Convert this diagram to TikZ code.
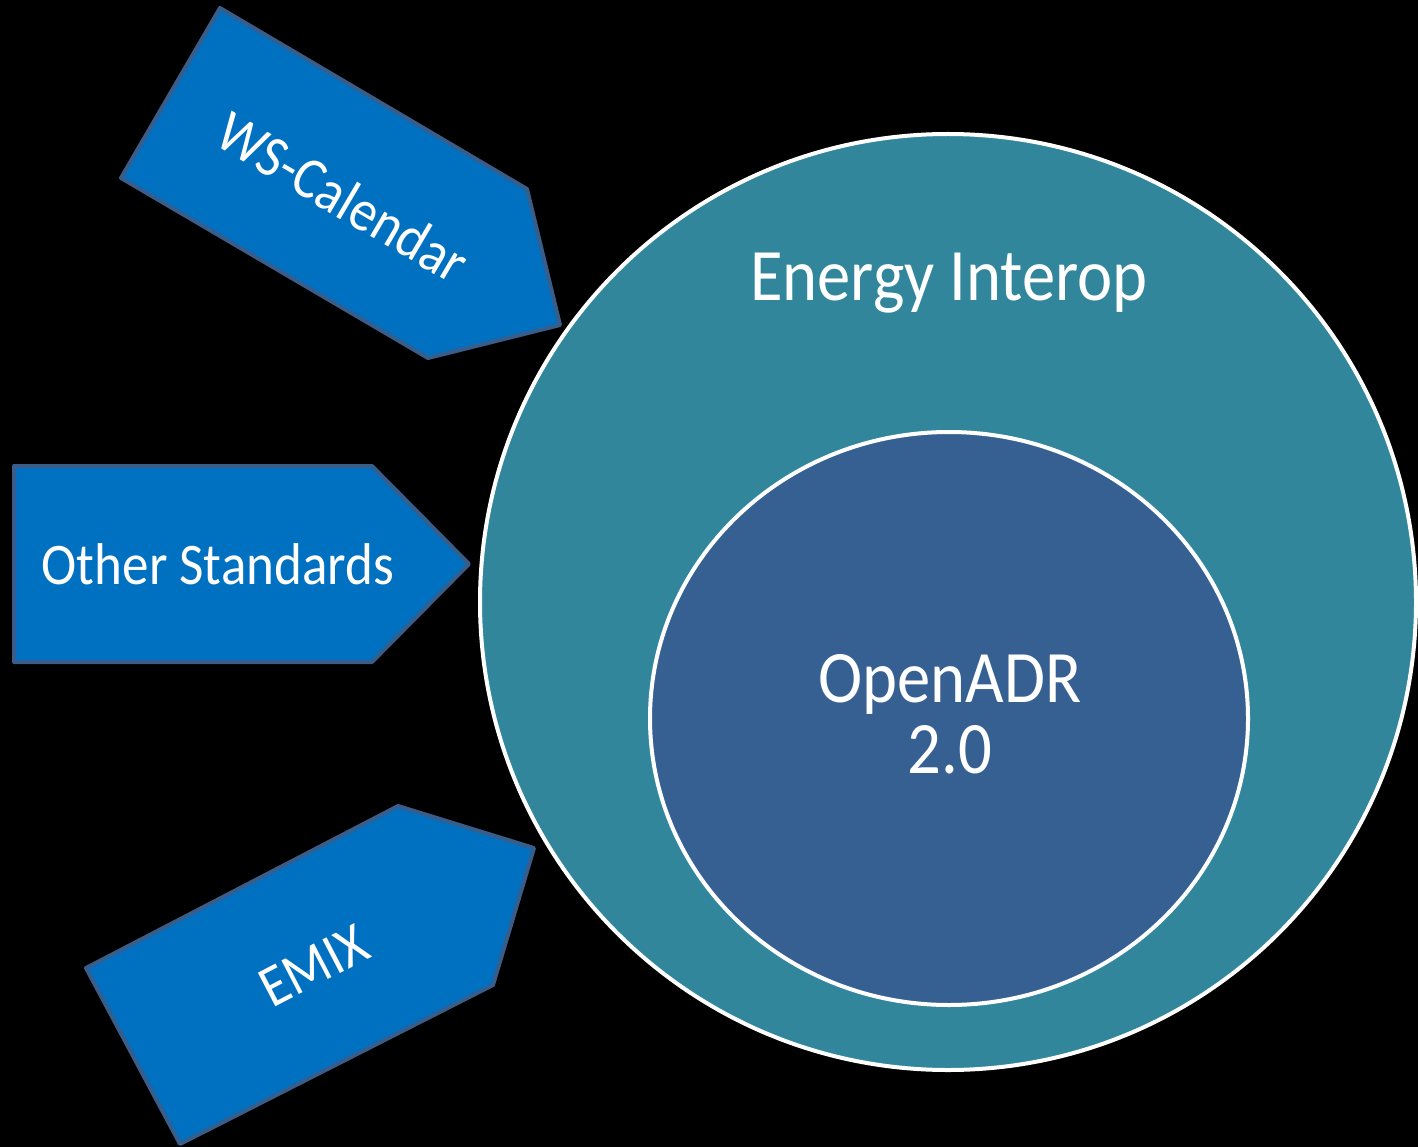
\documentclass[tikz,border=0pt]{standalone}
\usepackage{fontspec}
\setmainfont{Carlito}[FakeStretch=0.9]
\definecolor{bgblack}{RGB}{0,0,0}
\definecolor{outerteal}{RGB}{49,134,155}
\definecolor{innerblue}{RGB}{55,96,146}
\definecolor{arrowblue}{RGB}{0,112,192}
\definecolor{arrowedge}{RGB}{56,93,138}
\tikzset{
    arrowshape/.style={fill=arrowblue, draw=arrowedge, line width=4pt, line join=round},
    ringshape/.style={draw=white, line width=4pt},
    sidelabel/.style={text=white, font=\fontsize{59}{70}\selectfont, inner sep=0pt},
    ringlabel/.style={text=white, font=\fontsize{74}{71}\selectfont, inner sep=0pt, anchor=base}
}
\begin{document}
\begin{tikzpicture}[x=1pt, y=-1pt]
            \fill[bgblack] (0, 0) rectangle (1418, 1147);
            \useasboundingbox (0, 0) rectangle (1418, 1147);

            % rings
            \draw[ringshape, fill=outerteal] (948, 602) circle[radius=468];
            \draw[ringshape, fill=innerblue] (949, 718.5) ellipse[x radius=299, y radius=286.5];

            \node[ringlabel] (energy) at (949, 301) {Energy Interop};
            \node[ringlabel] (openadr) at (950, 702) {OpenADR};
            \node[ringlabel] (version) at (950, 773) {2.0};

            % incoming arrows
            \draw[arrowshape] (220, 8) -- (527, 189) -- (560, 325) -- (428, 358) -- (121, 178) -- cycle;
            \draw[arrowshape] (14, 466) -- (372, 466) -- (469, 564) -- (372, 662) -- (14, 662) -- cycle;
            \draw[arrowshape] (86, 968) -- (398, 806) -- (534, 848) -- (493, 985) -- (180, 1144) -- cycle;

            \node[sidelabel, rotate=-30.5] (wscal) at (343, 197) {WS-Calendar};
            \node[sidelabel, anchor=base] (other) at (218, 584) {Other Standards};
            \node[sidelabel, rotate=27.5] (emix) at (314, 966) {EMIX};
        \end{tikzpicture}
\end{document}
